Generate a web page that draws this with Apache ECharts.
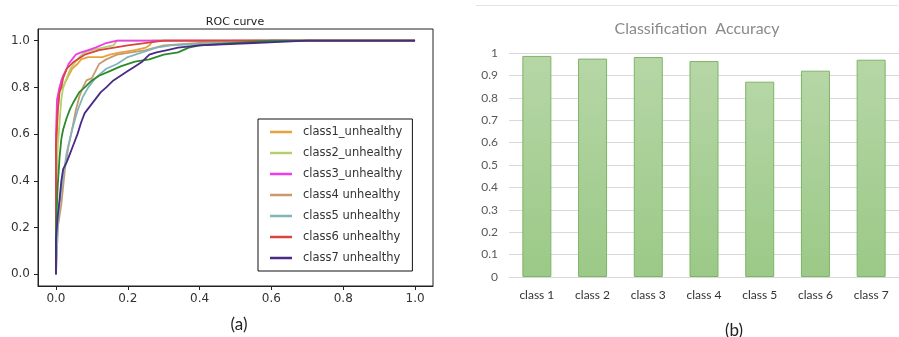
<!DOCTYPE html>
<html><head><meta charset="utf-8">
<script src="https://cdn.jsdelivr.net/npm/echarts@6/dist/echarts.min.js"></script>
<style>html,body{margin:0;padding:0;background:#fff}#c{width:899px;height:337px}</style>
</head><body><div id="c"></div>
<script>
// ROC curves (false positive rate, true positive rate)
const roc1 = [[0,0],[0,0.5],[0.005,0.7],[0.01,0.8],[0.02,0.8],[0.025,0.82],[0.035,0.85],[0.045,0.88],[0.06,0.9],[0.07,0.92],[0.09,0.93],[0.13,0.93],[0.15,0.94],[0.18,0.95],[0.22,0.96],[0.25,0.97],[0.26,0.98],[0.27,1.0],[1,1]];
const roc2 = [[0,0],[0,0.3],[0.005,0.55],[0.01,0.65],[0.015,0.75],[0.02,0.8],[0.03,0.84],[0.04,0.88],[0.05,0.9],[0.065,0.93],[0.08,0.95],[0.1,0.96],[0.13,0.97],[0.16,0.98],[0.17,1.0],[1,1]];
const roc3 = [[0,0],[0,0.6],[0.003,0.75],[0.01,0.8],[0.015,0.83],[0.02,0.85],[0.03,0.88],[0.035,0.9],[0.045,0.92],[0.055,0.94],[0.07,0.95],[0.09,0.96],[0.11,0.97],[0.14,0.99],[0.17,1.0],[1,1]];
const roc4 = [[0,0],[0.005,0.2],[0.015,0.3],[0.025,0.45],[0.035,0.55],[0.045,0.62],[0.055,0.7],[0.065,0.76],[0.075,0.8],[0.085,0.83],[0.1,0.84],[0.11,0.87],[0.12,0.9],[0.14,0.92],[0.17,0.94],[0.21,0.95],[0.25,0.96],[0.3,0.98],[0.4,0.99],[0.5,1.0],[1,1]];
const roc5 = [[0,0],[0.005,0.2],[0.01,0.3],[0.02,0.42],[0.03,0.52],[0.045,0.62],[0.06,0.7],[0.075,0.76],[0.09,0.8],[0.11,0.84],[0.14,0.88],[0.17,0.9],[0.2,0.93],[0.24,0.95],[0.28,0.97],[0.32,0.98],[0.45,0.99],[0.55,1.0],[1,1]];
const roc6 = [[0,0],[0,0.55],[0.005,0.7],[0.01,0.78],[0.015,0.8],[0.02,0.84],[0.03,0.88],[0.05,0.91],[0.08,0.94],[0.12,0.96],[0.2,0.98],[0.3,1.0],[1,1]];
const roc7 = [[0,0],[0,0.15],[0.005,0.25],[0.01,0.32],[0.015,0.4],[0.02,0.45],[0.03,0.48],[0.04,0.52],[0.05,0.56],[0.06,0.6],[0.07,0.65],[0.08,0.69],[0.095,0.72],[0.11,0.75],[0.125,0.78],[0.14,0.8],[0.16,0.83],[0.18,0.85],[0.2,0.87],[0.22,0.89],[0.24,0.91],[0.26,0.94],[0.28,0.95],[0.31,0.96],[0.34,0.97],[0.4,0.98],[0.55,0.99],[0.7,1.0],[1,1]];
const rocExtra = [[0,0],[0,0.2],[0.005,0.38],[0.01,0.5],[0.015,0.58],[0.02,0.62],[0.03,0.67],[0.04,0.71],[0.05,0.74],[0.065,0.78],[0.08,0.8],[0.1,0.83],[0.12,0.85],[0.15,0.87],[0.18,0.89],[0.22,0.91],[0.26,0.92],[0.3,0.94],[0.34,0.95],[0.37,0.97],[0.4,0.98],[0.5,0.99],[0.6,1.0],[1,1]];
const rocNames = ['class1_unhealthy','class2_unhealthy','class3_unhealthy','class4 unhealthy','class5 unhealthy','class6 unhealthy','class7 unhealthy'];
const rocTicks = [0, 0.2, 0.4, 0.6, 0.8, 1.0];

// Classification accuracy
const categories = ['class 1','class 2','class 3','class 4','class 5','class 6','class 7'];
const accuracy = [0.987, 0.975, 0.982, 0.964, 0.872, 0.921, 0.970];

const rocColors = ['#e9a23b','#b3d06c','#ee3bee','#c99a6e','#82b5b8','#d9443f','#4a2a86'];
const chart = echarts.init(document.getElementById('c'));
const fontA = 'DejaVu Sans';
const fontB = 'Lato';
const rocData = [roc1, roc2, roc3, roc4, roc5, roc6, roc7];
const series = [];
[0,1,2,3,4,5].forEach(i => series.push({
  name: rocNames[i], type: 'line', xAxisIndex: 0, yAxisIndex: 0, data: rocData[i],
  showSymbol: false, symbol: 'none', lineStyle: {width: 1.8, color: rocColors[i]}, itemStyle:{color: rocColors[i]}, z: 2 + i
}));
series.push({name: 'other', type: 'line', xAxisIndex: 0, yAxisIndex: 0, data: rocExtra,
  showSymbol: false, symbol: 'none', lineStyle: {width: 1.8, color: '#2b8a2b'}, itemStyle:{color:'#2b8a2b'}, z: 9});
series.push({name: rocNames[6], type: 'line', xAxisIndex: 0, yAxisIndex: 0, data: roc7,
  showSymbol: false, symbol: 'none', lineStyle: {width: 1.8, color: rocColors[6]}, itemStyle:{color: rocColors[6]}, z: 10});
series.push({
  name: 'Accuracy', type: 'bar', xAxisIndex: 1, yAxisIndex: 1, data: accuracy, barWidth: 29,
  itemStyle: {
    color: new echarts.graphic.LinearGradient(0,0,0,1,[{offset:0,color:'#b6d6a6'},{offset:1,color:'#9bc987'}]),
    borderColor: '#7db566', borderWidth: 1
  }
});

chart.setOption({
  animation: false,
  color: rocColors,
  title: [
    {text: 'ROC curve', left: 230, top: 12, textAlign: 'center', textStyle: {fontFamily: fontA, fontSize: 11, fontWeight: 'normal', color: '#222'}},
    {text: 'Classification  Accuracy', left: 692, top: 16, textAlign: 'center', textStyle: {fontFamily: fontB, fontSize: 16, fontWeight: 'normal', color: '#8a8a8a'}},
    {text: '(a)', left: 234, top: 311, textAlign: 'center', textStyle: {fontFamily: fontB, fontSize: 17, fontWeight: 'normal', color: '#222'}},
    {text: '(b)', left: 729, top: 317, textAlign: 'center', textStyle: {fontFamily: fontB, fontSize: 17, fontWeight: 'normal', color: '#222'}}
  ],
  legend: {
    data: rocNames, orient: 'vertical', left: 258, top: 119,
    backgroundColor: '#fff', borderColor: '#111', borderWidth: 1,
    padding: [7, 10, 7, 12], itemGap: 9, itemWidth: 22, itemHeight: 2.5, icon: 'rect',
    textStyle: {fontFamily: fontA, fontSize: 11.5, color: '#333', padding: [0,0,0,6]}
  },
  grid: [
    {left: 38, top: 29, width: 395, height: 257, show: true, borderColor: '#222', borderWidth: 1, backgroundColor: 'transparent'},
    {left: 509, top: 53, width: 390, height: 224}
  ],
  xAxis: [
    {type: 'value', gridIndex: 0, min: -0.05, max: 1.05,
     axisLine: {show: true, onZero: false, lineStyle: {color: '#222'}},
     splitLine: {show: false},
     axisTick: {show: true, length: 4, customValues: rocTicks, lineStyle: {color: '#222'}},
     axisLabel: {customValues: rocTicks, formatter: v => v.toFixed(1), fontFamily: fontA, fontSize: 12, color: '#333', margin: 7}},
    {type: 'category', gridIndex: 1, data: categories,
     axisLine: {show: true, lineStyle: {color: '#d9d9d9'}},
     axisTick: {show: false},
     axisLabel: {fontFamily: fontB, fontSize: 12, color: '#333', margin: 12}}
  ],
  yAxis: [
    {type: 'value', gridIndex: 0, min: -0.05, max: 1.05,
     axisLine: {show: true, onZero: false, lineStyle: {color: '#222'}},
     splitLine: {show: false},
     axisTick: {show: true, length: 4, customValues: rocTicks, lineStyle: {color: '#222'}},
     axisLabel: {customValues: rocTicks, formatter: v => v.toFixed(1), fontFamily: fontA, fontSize: 12, color: '#333', margin: 8}},
    {type: 'value', gridIndex: 1, min: 0, max: 1, interval: 0.1,
     axisLine: {show: false}, axisTick: {show: false},
     splitLine: {show: true, lineStyle: {color: '#d9d9d9'}},
     axisLabel: {formatter: v => (v === 0 ? '0' : (Math.abs(v - 1) < 1e-9 ? '1' : v.toFixed(1))), fontFamily: fontB, fontSize: 12, color: '#595959', margin: 11}}
  ],
  graphic: [
    {type: 'line', shape: {x1: 476, y1: 5.5, x2: 898, y2: 5.5}, style: {stroke: '#e3e3e3', lineWidth: 1}}
  ],
  series: series
});
</script></body></html>
